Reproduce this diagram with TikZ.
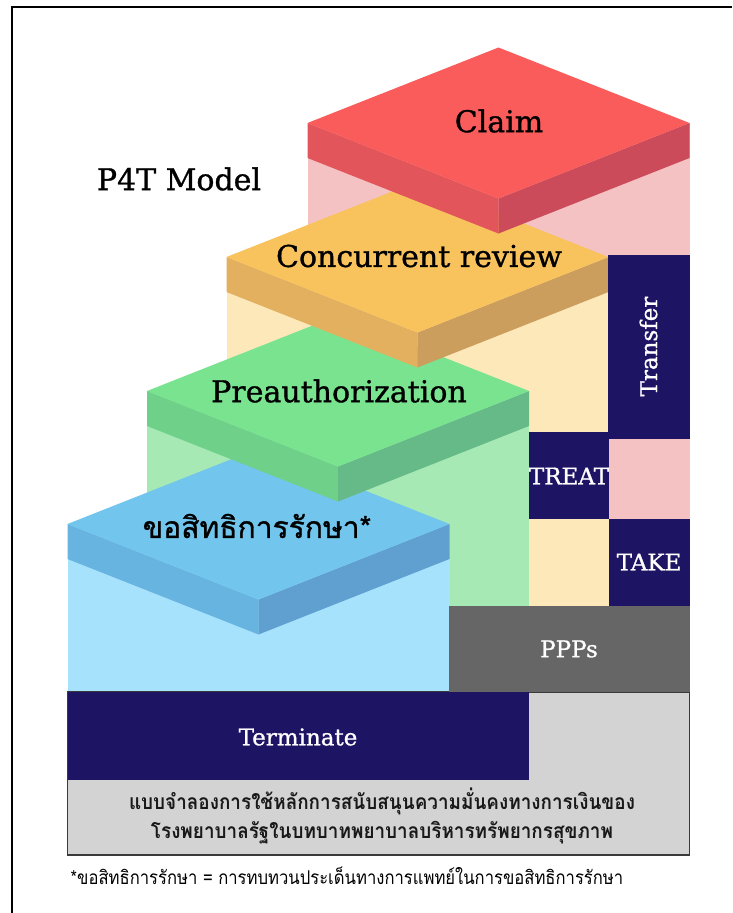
\documentclass[tikz,border=0pt]{standalone}
\usepackage{fontspec}
\setmainfont{DejaVu Serif}
\newfontfamily\labelfont[FakeBold=1]{DejaVu Serif}
\newfontfamily\thaifont[Script=Thai,FakeBold=1]{Loma}
\newfontfamily\thaicapfont[Script=Thai,FakeStretch=0.9]{Loma}
\newfontfamily\thainotefont[Script=Thai,FakeStretch=0.875]{Loma}
\definecolor{navy}{HTML}{1E1464}
\definecolor{redtop}{HTML}{F95C5A}
\definecolor{redleft}{HTML}{E2555A}
\definecolor{redright}{HTML}{CC4B5A}
\definecolor{redpil}{HTML}{F4C2C2}
\definecolor{yeltop}{HTML}{F8C25C}
\definecolor{yelleft}{HTML}{E2B05E}
\definecolor{yelright}{HTML}{CC9E5E}
\definecolor{yelpil}{HTML}{FDE8BA}
\definecolor{grntop}{HTML}{7AE38F}
\definecolor{grnleft}{HTML}{6FD08A}
\definecolor{grnright}{HTML}{66BA88}
\definecolor{grnpil}{HTML}{A6E9B5}
\definecolor{blutop}{HTML}{72C5EC}
\definecolor{bluleft}{HTML}{68B4E0}
\definecolor{bluright}{HTML}{60A0D0}
\definecolor{blupil}{HTML}{A7E2FD}
\definecolor{pppgray}{HTML}{666666}
\definecolor{boxgray}{HTML}{D3D3D3}
\definecolor{boxline}{HTML}{3A3A3A}
\newcommand\isoslab[5]{%
  \fill[#4] (#1-191,#2) -- (#1,#2+75.5) -- (#1,#2+110.5) -- (#1-191,#2+35) -- cycle;
  \fill[#5] (#1,#2+75.5) -- (#1+191,#2) -- (#1+191,#2+35) -- (#1,#2+110.5) -- cycle;
  \fill[#3] (#1-191,#2) -- (#1,#2-75.5) -- (#1+191,#2) -- (#1,#2+75.5) -- cycle;
}
\tikzset{
  steplabel/.style={font=\labelfont\fontsize{30}{36}\selectfont, text=black, inner sep=0pt},
  whitelabel/.style={font=\labelfont\fontsize{23}{28}\selectfont, text=white, inner sep=0pt},
  navybox/.style={fill=navy},
}
\begin{document}
\begin{tikzpicture}[x=1pt,y=-1pt]
\useasboundingbox (0,0) rectangle (732,913);
\fill[white] (0,0) rectangle (732,913);
% frame
\draw[line width=2pt, black] (12,913) -- (12,7) -- (732,7);
% pillars
\fill[redpil] (307.5,123) rectangle (689.5,606);
\fill[yelpil] (226.5,257) rectangle (608.5,606);
\fill[grnpil] (147,391) rectangle (529,606);
\fill[blupil] (67.5,524) rectangle (449.5,692);
% slabs (lowest first)
\isoslab{258.5}{524}{blutop}{bluleft}{bluright}
\isoslab{338}{391}{grntop}{grnleft}{grnright}
\isoslab{417.5}{257}{yeltop}{yelleft}{yelright}
\isoslab{498.5}{123}{redtop}{redleft}{redright}
% navy side boxes
\fill[navybox] (607.5,255) rectangle (689.5,438.5);
\fill[navybox] (529,432) rectangle (608.5,518.5);
\fill[navybox] (608.5,518.5) rectangle (689.5,606);
% bottom boxes
\fill[boxgray, draw=boxline, line width=1.5pt] (67.5,692) rectangle (689.5,855);
\fill[pppgray] (449,606) rectangle (689.5,692);
\fill[navybox] (67.5,692) rectangle (528.5,779.5);
% labels
\node[steplabel] (title) at (179,179) {P4T Model};
\node[steplabel] (claim) at (499,121) {Claim};
\node[steplabel] (concurrent) at (419,256) {Concurrent review};
\node[steplabel] (preauth) at (339,391) {Preauthorization};
\node[steplabel, font=\thaifont\fontsize{30}{36}\selectfont] (claimright) at (257,526) {ขอสิทธิการรักษา*};
\node[whitelabel, rotate=90] (transfer) at (648.5,346.5) {Transfer};
\node[whitelabel] (treat) at (569,476) {TREAT};
\node[whitelabel] (take) at (649,562) {TAKE};
\node[whitelabel] (ppps) at (569,649) {PPPs};
\node[whitelabel] (terminate) at (298,737) {Terminate};
\node[inner sep=0pt, align=center, text=black!90, font=\thaicapfont\bfseries\fontsize{21}{29}\selectfont] (caption) at (382,816) {แบบจำลองการใช้หลักการสนับสนุนความมั่นคงทางการเงินของ\\โรงพยาบาลรัฐในบทบาทพยาบาลบริหารทรัพยากรสุขภาพ};
\node[inner sep=0pt, text=black, font=\thainotefont\fontsize{19}{22}\selectfont] (note) at (347,876) {*ขอสิทธิการรักษา = การทบทวนประเด็นทางการแพทย์ในการขอสิทธิการรักษา};
\end{tikzpicture}
\end{document}
